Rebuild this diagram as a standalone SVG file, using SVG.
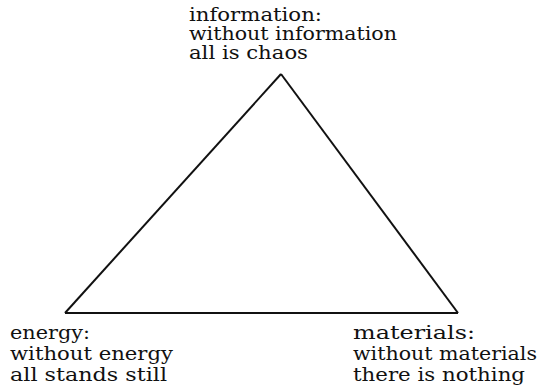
<svg xmlns="http://www.w3.org/2000/svg" width="541" height="390" viewBox="0 0 541 390">
<style>
text{font-family:"DejaVu Serif","Liberation Serif",serif;font-size:18px;fill:#111}
.edge{stroke:#111;stroke-width:2;fill:none;stroke-linejoin:miter}
</style>
<rect width="541" height="390" fill="#fff"/>
<g id="connectors">
<path class="edge" d="M281,74 L458,313"/>
<path class="edge" d="M458,313 L65,313"/>
<path class="edge" d="M65,313 L281,74"/>
</g>
<g id="information">
<text x="189" y="21" textLength="133" lengthAdjust="spacingAndGlyphs">information:</text>
<text x="189" y="40" textLength="208" lengthAdjust="spacingAndGlyphs">without information</text>
<text x="189" y="59" textLength="119" lengthAdjust="spacingAndGlyphs">all is chaos</text>
</g>
<g id="energy">
<text x="10" y="339" textLength="80" lengthAdjust="spacingAndGlyphs">energy:</text>
<text x="10" y="360" textLength="163" lengthAdjust="spacingAndGlyphs">without energy</text>
<text x="10" y="381" textLength="157" lengthAdjust="spacingAndGlyphs">all stands still</text>
</g>
<g id="materials">
<text x="353" y="339" textLength="122" lengthAdjust="spacingAndGlyphs">materials:</text>
<text x="353" y="360" textLength="184" lengthAdjust="spacingAndGlyphs">without materials</text>
<text x="353" y="381" textLength="172" lengthAdjust="spacingAndGlyphs">there is nothing</text>
</g>
</svg>
